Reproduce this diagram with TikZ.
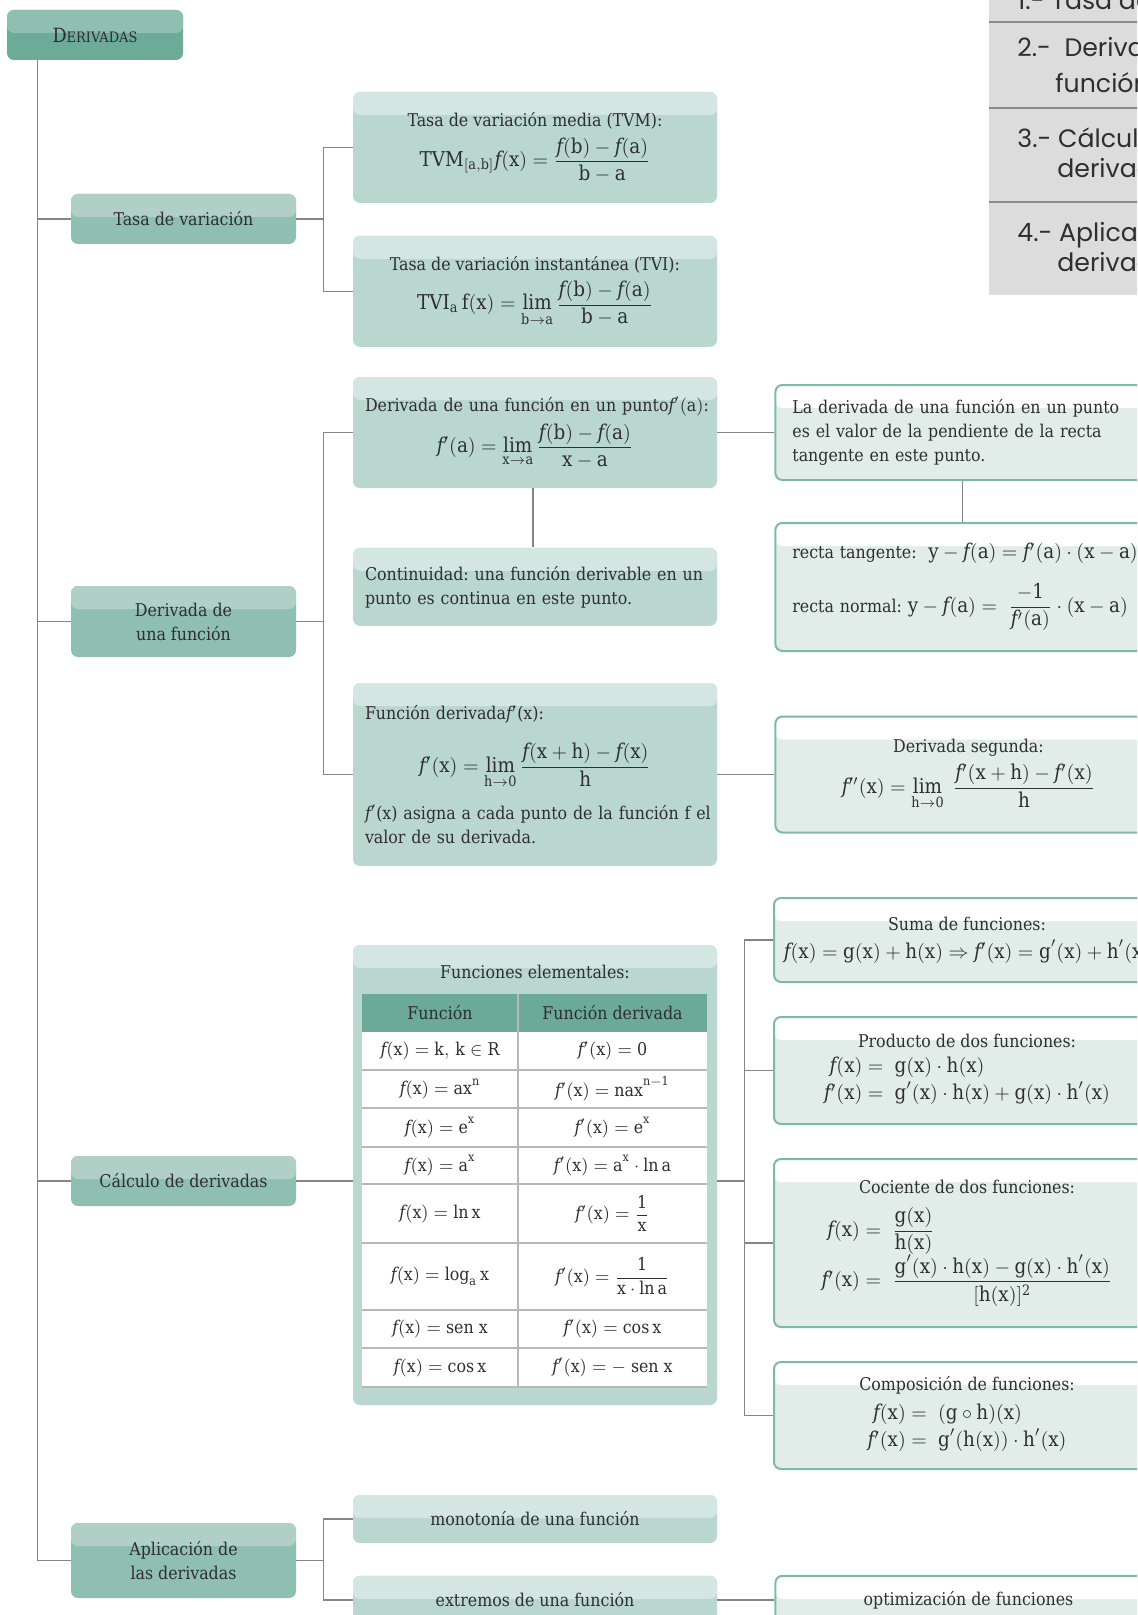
\documentclass[tikz,border=0pt]{standalone}
\usepackage{amsmath,amssymb}
\usepackage{fontspec}
\setmainfont{DejaVu Serif Condensed}
\newfontfamily\panelfont{Poppins}
\usetikzlibrary{positioning}
\frenchspacing

\definecolor{ink}{HTML}{2E2E2E}
\definecolor{rootTop}{HTML}{8FBFB0}
\definecolor{rootBot}{HTML}{6BAB98}
\definecolor{topicTop}{HTML}{B0D0C7}
\definecolor{topicBot}{HTML}{8FBFB2}
\definecolor{infoTop}{HTML}{D4E6E1}
\definecolor{infoBot}{HTML}{BAD7CF}
\definecolor{noteBot}{HTML}{E2EDE9}
\definecolor{noteLine}{HTML}{7DBAA6}
\definecolor{linkGray}{HTML}{858585}
\definecolor{cellGray}{HTML}{B8B8B8}
\definecolor{headTeal}{HTML}{6BAA98}
\definecolor{panelGray}{HTML}{DCDCDD}
\definecolor{panelLine}{HTML}{8A8A8A}

\newcommand{\fit}{\mathit{f}}
\newcommand{\mathsize}{\fontsize{10.2}{12}\selectfont}
\newcommand{\rmath}[1]{$\mathrm{#1}$}
\newcommand{\rbig}[1]{{\mathsize$\mathrm{#1}$}}
\newcommand{\rdisp}[1]{{\mathsize$\displaystyle\mathrm{#1}$}}
\newcommand{\bodysize}{\fontsize{8.8}{12}\selectfont}

\begin{document}
\begin{tikzpicture}[x=0.5pt, y=-0.5pt,
  every node/.style={text=ink, font=\bodysize},
  band/.style={path picture={\fill[#1] (path picture bounding box.north west) rectangle ([yshift=-11.5pt]path picture bounding box.north east);}},
  rootbox/.style={rectangle, rounded corners=3.5pt, fill=rootBot, band=rootTop, minimum width=88pt, minimum height=25pt},
  topicbox/.style={rectangle, rounded corners=3.5pt, fill=topicBot, band=topicTop, minimum width=112.5pt, minimum height=25pt, align=center},
  infobox/.style={rectangle, rounded corners=3.5pt, fill=infoBot, band=infoTop, minimum width=182pt, minimum height=24pt, align=center},
  notebox/.style={rectangle, rounded corners=3.5pt, draw=noteLine, line width=1pt, fill=noteBot, band=white, minimum width=193pt, minimum height=24pt, align=center},
  link/.style={draw=linkGray, line width=0.7pt},
  cellline/.style={draw=cellGray, line width=0.6pt},
  panel/.style={font=\panelfont\fontsize{12.6}{15}\selectfont, anchor=base west, inner sep=0pt}
]
\useasboundingbox (0,0) rectangle (1137,1615);
\fill[white] (0,0) rectangle (1137,1615);
\clip (0,0) rectangle (1137,1615);

% index panel
\fill[panelGray] (989,-10) rectangle (1150,295);
\foreach \y in {22,108,202}
  \draw[panelLine, line width=0.8pt] (989,\y) -- (1150,\y);
\node[panel] (idx1) at (1017,10) {1.- Tasa de variación};
\node[panel] (idx2) at (1017,57) {2.-\ \ Derivada de una};
\node[panel] (idx2b) at (1055,93) {función};
\node[panel] (idx3) at (1017,148) {3.- Cálculo de};
\node[panel] (idx3b) at (1057,178) {derivadas};
\node[panel] (idx4) at (1017,242) {4.- Aplicación de las};
\node[panel] (idx4b) at (1057,272) {derivadas};

% main topics
\node[rootbox] (root) at (95,35) {\fontsize{9.8}{11}\selectfont D\fontsize{7.2}{9}\selectfont ERIVADAS};
\node[topicbox] (tasa) at (183.5,219) {Tasa de variación};
\node[topicbox, minimum height=35.5pt] (derf) at (183.5,621.5) {Derivada de\\una función};
\node[topicbox] (calc) at (183.5,1181) {Cálculo de derivadas};
\node[topicbox, minimum height=37.5pt] (aplic) at (183.5,1560.5) {Aplicación de\\las derivadas};

% tasa de variacion
\node[infobox, minimum height=55.5pt] (tvm) at (535,147.5) {Tasa de variación media (TVM):\\[3pt]
  \rdisp{TVM_{[a,b]}\fit(x)=\frac{\fit(b)-\fit(a)}{b-a}}};
\node[infobox, minimum height=55.5pt, below=16pt of tvm] (tvi) {Tasa de variación instantánea (TVI):\\[3pt]
  \rdisp{TVI_a\,f(x)=\lim_{b\to a}\frac{\fit(b)-\fit(a)}{b-a}}};

% derivada de una funcion
\node[infobox, minimum height=55.5pt, align=left, text width=170pt, inner xsep=6pt] (dpunto) at (535,432.5)
  {\mbox{Derivada de una función en un punto\rmath{\fit'(a)}:}\\[3pt]
  \hspace*{\fill}\rdisp{\fit'(a)=\lim_{x\to a}\frac{\fit(b)-\fit(a)}{x-a}}\hspace*{\fill}\mbox{}};
\node[infobox, minimum height=39pt, align=left, text width=170pt, inner xsep=6pt, below=29.5pt of dpunto] (cont)
  {\mbox{Continuidad: una función derivable en un}\\punto es continua en este punto.};
\node[infobox, minimum height=91.5pt, align=left, text width=170pt, inner xsep=6pt] (fder) at (535,774.5)
  {Función derivada\rmath{\fit'}(x):\\[9pt]
  \hspace*{\fill}\rdisp{\fit'(x)=\lim_{h\to 0}\frac{\fit(x+h)-\fit(x)}{h}}\hspace*{\fill}\mbox{}\\[7pt]
  \mbox{\rmath{\fit'}(x) asigna a cada punto de la función f el}\\valor de su derivada.};
\node[notebox, minimum height=47.5pt, align=left, text width=176pt, inner xsep=8.5pt, right=28.5pt of dpunto] (punto2)
  {La derivada de una función en un punto\\es el valor de la pendiente de la recta\\tangente en este punto.};
\node[notebox, minimum height=64pt, align=left, text width=176pt, inner xsep=8.5pt, below=20.5pt of punto2] (recta)
  {recta tangente:\ \ \rbig{y-\fit(a)=\fit'(a)\cdot(x-a)}\\[9pt]
  recta normal: \rbig{y-\fit(a)=\ \dfrac{-1}{\fit'(a)}\cdot(x-a)}};
\node[notebox, minimum height=58pt, right=28.5pt of fder] (dseg) {Derivada segunda:\\[3pt]
  \rdisp{\fit''(x)=\lim_{h\to 0}\ \frac{\fit'(x+h)-\fit'(x)}{h}}};

% calculo de derivadas
\node[infobox, minimum height=230pt] (felem) at (535,1175) {};
\node (felemt) at (535,972) {Funciones elementales:};
\fill[headTeal] (362,994) rectangle (707,1032);
\fill[white] (362,1032) rectangle (707,1387);
\draw[cellline] (518,994) -- (518,1387);
\node (hfun) at (440,1013) {Función};
\node (hder) at (612.5,1013) {Función derivada};
\foreach \ya/\yb/\fa/\fb [count=\i] in {
  1032/1070/{\rmath{\fit(x)=k,\,k\in R}}/{\rmath{\fit'(x)=0}},
  1070/1108/{\rmath{\fit(x)=ax^n}}/{\rmath{\fit'(x)=nax^{n-1}}},
  1108/1147/{\rmath{\fit(x)=e^x}}/{\rmath{\fit'(x)=e^x}},
  1147/1184/{\rmath{\fit(x)=a^x}}/{\rmath{\fit'(x)=a^x\cdot\ln a}},
  1184/1243/{\rmath{\fit(x)=\ln x}}/{\rmath{\fit'(x)=\dfrac{1}{x}}},
  1243/1310/{\rmath{\fit(x)=\log_a x}}/{\rmath{\fit'(x)=\dfrac{1}{x\cdot\ln a}}},
  1310/1348/{\rmath{\fit(x)=sen\ x}}/{\rmath{\fit'(x)=\cos x}},
  1348/1387/{\rmath{\fit(x)=\cos x}}/{\rmath{\fit'(x)=-\ sen\ x}}}
{
  \draw[cellline] (362,\yb) -- (707,\yb);
  \node (fa\i) at (440,{(\ya+\yb)/2}) {\fa};
  \node (fb\i) at (612.5,{(\ya+\yb)/2}) {\fb};
}
\node[notebox, minimum height=42pt] (suma) at (967,940) {Suma de funciones:\\[2pt]
  \rbig{\fit(x)=g(x)+h(x)\Rightarrow\fit'(x)=g'(x)+h'(x)}};
\node[notebox, minimum height=53.5pt, below=16.5pt of suma] (prod) {Producto de dos funciones:\\[3pt]
  \begin{tabular}{@{}r@{}l@{}}
  \rbig{\fit(x)={}} & \rbig{\;g(x)\cdot h(x)}\\[1pt]
  \rbig{\fit'(x)={}} & \rbig{\;g'(x)\cdot h(x)+g(x)\cdot h'(x)}
  \end{tabular}};
\node[notebox, minimum height=84pt, below=16.5pt of prod] (coc) {Cociente de dos funciones:\\[6pt]
  \begin{tabular}{@{}r@{}l@{}}
  \rbig{\fit(x)={}} & \rbig{\;\dfrac{g(x)}{h(x)}}\\[4pt]
  \rbig{\fit'(x)={}} & \rbig{\;\dfrac{g'(x)\cdot h(x)-g(x)\cdot h'(x)}{[h(x)]^2}}
  \end{tabular}};
\node[notebox, minimum height=53.5pt, below=16.5pt of coc] (comp) {Composición de funciones:\\[3pt]
  \begin{tabular}{@{}r@{}l@{}}
  \rbig{\fit(x)={}} & \rbig{\;(g\circ h)(x)}\\[1pt]
  \rbig{\fit'(x)={}} & \rbig{\;g'(h(x))\cdot h'(x)}
  \end{tabular}};

% aplicacion de las derivadas
\node[infobox, minimum height=24pt] (mono) at (535,1519) {monotonía de una función};
\node[infobox, minimum height=24pt, below=16pt of mono] (extr) {extremos de una función};
\node[notebox, minimum height=24pt, right=28.5pt of extr] (optim) {optimización de funciones};

% connectors
\coordinate (trunk) at ([xshift=15.5pt]root.south west);
\draw[link] (trunk) |- (tasa.west);
\draw[link] (trunk) |- (derf.west);
\draw[link] (trunk) |- (calc.west);
\draw[link] (trunk) |- (aplic.west);

\draw[link] (tasa.east) -- ++(13.5pt,0) coordinate (tasaj);
\draw[link] (tvm.west) -| (tasaj);
\draw[link] (tvi.west) -| (tasaj);

\draw[link] (derf.east) -- ++(13.5pt,0) coordinate (derfj);
\draw[link] (dpunto.west) -| (derfj);
\draw[link] (fder.west) -| (derfj);
\draw[link] ([xshift=-1pt]dpunto.south) -- ([xshift=-1pt]cont.north);
\draw[link] (dpunto) -- (punto2);
\draw[link] ([xshift=-3pt]punto2.south) -- ([xshift=-3pt]recta.north);
\draw[link] (fder) -- (dseg);

\draw[link] (calc.east) -- (calc.east -| felem.west);
\draw[link] (calc.east -| felem.east) -- ++(13.5pt,0) coordinate (calcj);
\draw[link] (suma.west) -| (calcj);
\draw[link] (prod.west) -| (calcj);
\draw[link] (coc.west) -| (calcj);
\draw[link] (comp.west) -| (calcj);

\draw[link] (aplic.east) -- ++(13.5pt,0) coordinate (aplicj);
\draw[link] (mono.west) -| (aplicj);
\draw[link] (extr.west) -| (aplicj);
\draw[link] (extr) -- (optim);
\end{tikzpicture}
\end{document}
